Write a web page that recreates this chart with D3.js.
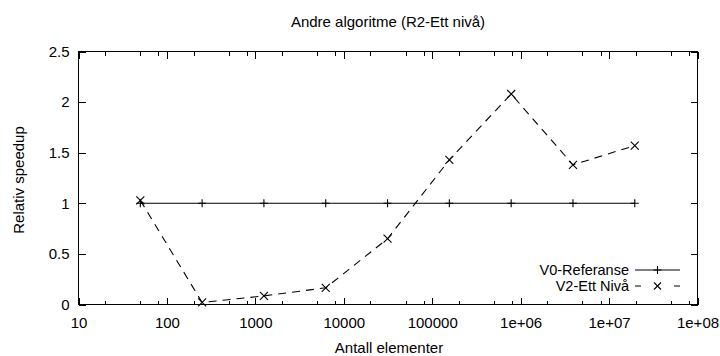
<!DOCTYPE html>
<html>
<head>
<meta charset="utf-8">
<script src="https://cdn.jsdelivr.net/npm/d3@7"></script>
<style>
  body { margin: 0; background: #fff; }
  text { font-family: "Liberation Sans", Arial, Helvetica, sans-serif; font-size: 15px; fill: #000; }
</style>
</head>
<body>
<script>
// data
const sizes = [50, 250, 1250, 6250, 31250, 156250, 781250, 3906250, 19531250];
const refValues = [1, 1, 1, 1, 1, 1, 1, 1, 1];
const v2Values = [1.03, 0.02, 0.085, 0.165, 0.65, 1.43, 2.08, 1.38, 1.57];

const xTicks = [10, 100, 1000, 10000, 100000, 1e6, 1e7, 1e8];
const xTickLabels = ["10", "100", "1000", "10000", "100000", "1e+06", "1e+07", "1e+08"];
const xMinorMult = [2, 5, 8];
const yTicks = [0, 0.5, 1, 1.5, 2, 2.5];
const yTickLabels = ["0", "0.5", "1", "1.5", "2", "2.5"];

const seriesNames = ["V0-Referanse", "V2-Ett Nivå"];

const width = 720, height = 356;
const plotLeft = 78.5, plotRight = 697.5, plotTop = 51.5, plotBottom = 304.5;

const svg = d3.select("body").append("svg")
    .attr("width", width)
    .attr("height", height);

const x = d3.scaleLog().domain([10, 1e8]).range([plotLeft, plotRight]);
const y = d3.scaleLinear().domain([0, 2.5]).range([plotBottom, plotTop]);

// minor ticks at 2,5,8 of each decade
const minorTicks = [];
xTicks.slice(0, -1).forEach(t => xMinorMult.forEach(m => minorTicks.push(t * m)));

function cleanAxis(g) {
    g.select(".domain").remove();
    g.selectAll("line").attr("stroke", "#000").attr("shape-rendering", "crispEdges");
    g.selectAll("text").attr("font-family", null).attr("font-size", null);
}

// bottom axis with labels
svg.append("g")
    .attr("transform", `translate(0,${plotBottom})`)
    .call(d3.axisBottom(x).tickValues(xTicks)
        .tickFormat((d, i) => xTickLabels[i])
        .tickSizeInner(-7).tickSizeOuter(0).tickPadding(13))
    .call(cleanAxis);
svg.append("g")
    .attr("transform", `translate(0,${plotBottom})`)
    .call(d3.axisBottom(x).tickValues(minorTicks).tickFormat("")
        .tickSizeInner(-4).tickSizeOuter(0))
    .call(cleanAxis);

// mirrored top ticks
svg.append("g")
    .attr("transform", `translate(0,${plotTop})`)
    .call(d3.axisTop(x).tickValues(xTicks).tickFormat("")
        .tickSizeInner(-7).tickSizeOuter(0))
    .call(cleanAxis);
svg.append("g")
    .attr("transform", `translate(0,${plotTop})`)
    .call(d3.axisTop(x).tickValues(minorTicks).tickFormat("")
        .tickSizeInner(-4).tickSizeOuter(0))
    .call(cleanAxis);

// left axis with labels, right mirrored
svg.append("g")
    .attr("transform", `translate(${plotLeft},0)`)
    .call(d3.axisLeft(y).tickValues(yTicks)
        .tickFormat((d, i) => yTickLabels[i])
        .tickSizeInner(-7).tickSizeOuter(0).tickPadding(9))
    .call(cleanAxis);
svg.append("g")
    .attr("transform", `translate(${plotRight},0)`)
    .call(d3.axisRight(y).tickValues(yTicks).tickFormat("")
        .tickSizeInner(-7).tickSizeOuter(0))
    .call(cleanAxis);

// border
svg.append("rect")
    .attr("x", plotLeft).attr("y", plotTop)
    .attr("width", plotRight - plotLeft).attr("height", plotBottom - plotTop)
    .attr("fill", "none").attr("stroke", "#000")
    .attr("shape-rendering", "crispEdges");

// titles
svg.append("text")
    .attr("x", (plotLeft + plotRight) / 2).attr("y", 27)
    .attr("text-anchor", "middle")
    .text("Andre algoritme (R2-Ett nivå)");
svg.append("text")
    .attr("x", (plotLeft + plotRight) / 2 + 1).attr("y", 353)
    .attr("text-anchor", "middle")
    .text("Antall elementer");
svg.append("text")
    .attr("transform", `translate(24,180) rotate(-90)`)
    .attr("text-anchor", "middle")
    .text("Relativ speedup");

const line = d3.line().x(d => x(d[0])).y(d => y(d[1]));
const refData = sizes.map((s, i) => [s, refValues[i]]);
const v2Data = sizes.map((s, i) => [s, v2Values[i]]);

const plusPath = (cx, cy, r) => `M${cx - r},${cy}H${cx + r}M${cx},${cy - r}V${cy + r}`;
const crossPath = (cx, cy, r) => `M${cx - r},${cy - r}L${cx + r},${cy + r}M${cx - r},${cy + r}L${cx + r},${cy - r}`;

// V0 reference
svg.append("path")
    .attr("d", line(refData))
    .attr("fill", "none").attr("stroke", "#000").attr("stroke-width", 1.1);
svg.append("g").selectAll("path")
    .data(refData).join("path")
    .attr("d", d => plusPath(x(d[0]), y(d[1]), 4))
    .attr("stroke", "#000").attr("stroke-width", 1.1);

// V2 dashed
svg.append("path")
    .attr("d", line(v2Data))
    .attr("fill", "none").attr("stroke", "#000").attr("stroke-width", 1.1)
    .attr("stroke-dasharray", "8,6");
svg.append("g").selectAll("path")
    .data(v2Data).join("path")
    .attr("d", d => crossPath(x(d[0]), y(d[1]), 4))
    .attr("stroke", "#000").attr("stroke-width", 1.1);

// legend
const legY = [270, 286];
const lx0 = 635, lx1 = 680;
const legend = svg.append("g");
legend.selectAll("text")
    .data(seriesNames).join("text")
    .attr("x", 629).attr("y", (d, i) => legY[i])
    .attr("dy", "0.35em")
    .attr("text-anchor", "end")
    .style("font-size", "14.5px")
    .text(d => d);
legend.append("path")
    .attr("d", `M${lx0},${legY[0]}H${lx1}`)
    .attr("stroke", "#000").attr("stroke-width", 1.1);
legend.append("path")
    .attr("d", plusPath((lx0 + lx1) / 2, legY[0], 4))
    .attr("stroke", "#000").attr("stroke-width", 1.1);
legend.append("path")
    .attr("d", `M${lx0},${legY[1]}H${lx1}`)
    .attr("stroke", "#000").attr("stroke-width", 1.1)
    .attr("stroke-dasharray", "6,33");
legend.append("path")
    .attr("d", crossPath((lx0 + lx1) / 2, legY[1], 3.5))
    .attr("stroke", "#000").attr("stroke-width", 1.1);
</script>
</body>
</html>
